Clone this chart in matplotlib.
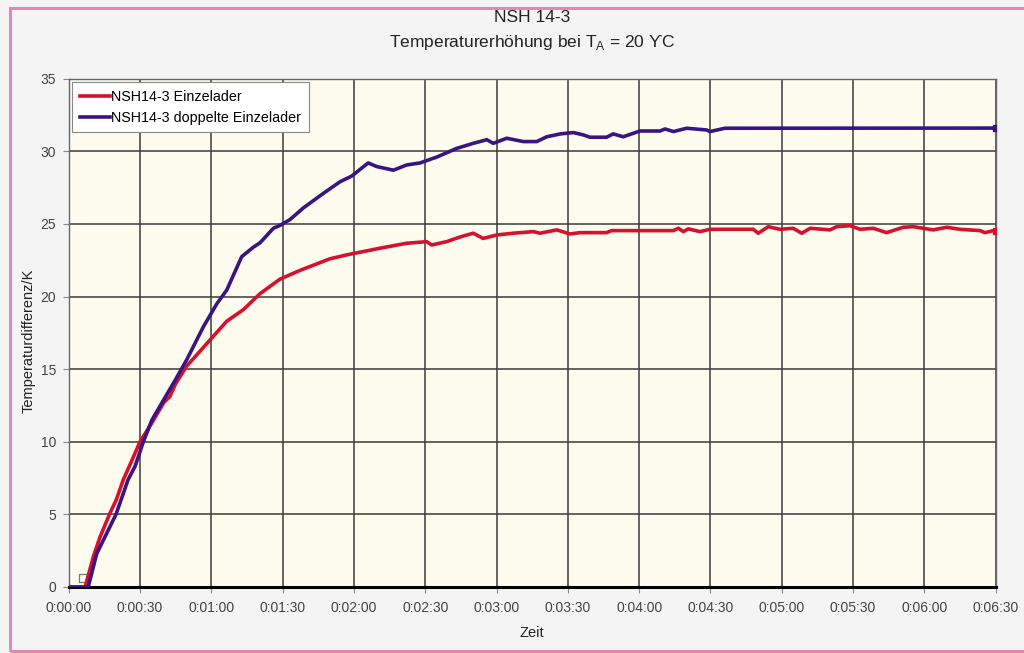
import matplotlib.pyplot as plt
from matplotlib.ticker import FuncFormatter
from matplotlib.patches import Rectangle

plt.rcParams['font.family'] = ['Liberation Sans', 'DejaVu Sans']

# Zeit in Sekunden, Temperaturdifferenz in K
t_einzel = [0, 6.9, 10.4, 13.2, 17.4, 20, 23, 26, 30, 35, 40, 42.5, 45, 49.6,
            59.4, 66.5, 73.5, 80.5, 88.9, 97.3, 109.9, 117.0, 131.0, 142.2,
            150.6, 152.7, 159.0, 164.6, 170.2, 174.4, 180.1, 187.0, 195.5,
            198.3, 205.3, 210.9, 215.1, 226.3, 228.4, 254.4, 256.5, 258.6,
            260.7, 265.6, 269.8, 288.0, 290.1, 294.3, 299.2, 304.8, 308.4,
            311.9, 320.3, 323.1, 328.7, 332.9, 338.5, 344.1, 351.1, 355.3,
            363.7, 369.4, 375.0, 383.4, 385.5, 389.0, 390]
v_einzel = [0, 0, 2.1, 3.45, 5.1, 6.0, 7.4, 8.5, 10, 11.3, 12.7, 13.1, 14.0, 15.2,
            17.0, 18.3, 19.1, 20.2, 21.2, 21.8, 22.6, 22.87, 23.33, 23.67,
            23.78, 23.55, 23.78, 24.1, 24.36, 24.0, 24.24, 24.36, 24.47,
            24.36, 24.59, 24.31, 24.4, 24.4, 24.54, 24.54, 24.7, 24.47,
            24.66, 24.47, 24.63, 24.63, 24.36, 24.81, 24.63, 24.7, 24.36,
            24.7, 24.59, 24.81, 24.88, 24.63, 24.7, 24.4, 24.77, 24.81,
            24.59, 24.77, 24.63, 24.54, 24.4, 24.54, 24.5]

t_doppelt = [0, 8.2, 11.8, 16, 19.9, 25, 27.9, 31.4, 35, 40, 45, 49.5, 56.6,
             62.3, 66.5, 72.8, 77.7, 80.5, 86.1, 88.9, 93.1, 98.7, 107.1,
             114.1, 119.1, 126.0, 129.6, 136.6, 142.2, 147.8, 154.8, 163.2,
             170.2, 175.9, 178.6, 184.3, 191.3, 196.9, 201.1, 206.9, 212.3,
             216.5, 219.3, 226.3, 229.1, 233.3, 240.3, 248.8, 250.9, 254.4,
             260.0, 268.4, 269.8, 276.1, 390]
v_doppelt = [0, 0, 2.3, 3.7, 5.0, 7.4, 8.3, 10, 11.5, 12.9, 14.3, 15.6, 17.9,
             19.5, 20.45, 22.75, 23.4, 23.7, 24.7, 24.9, 25.3, 26.1, 27.1,
             27.9, 28.3, 29.2, 28.95, 28.7, 29.06, 29.2, 29.6, 30.2,
             30.55, 30.8, 30.55, 30.9, 30.67, 30.67, 31.0, 31.2, 31.29,
             31.13, 30.97, 30.97, 31.2, 31.0, 31.4, 31.4, 31.54, 31.36,
             31.59, 31.47, 31.36, 31.59, 31.6]

start_marker_t = [6]
start_marker_v = [0.6]

x_ticks = list(range(0, 391, 30))
y_ticks = list(range(0, 36, 5))

red = '#d7102e'
blue = '#3b1483'


def hms(x, pos):
    s = int(round(x))
    return '%d:%02d:%02d' % (s // 3600, (s % 3600) // 60, s % 60)


fig = plt.figure(figsize=(10.24, 6.53), dpi=100)
fig.patch.set_facecolor('#f4f4f4')

# rosa Rahmen
fig.patches.append(Rectangle((10 / 1024, 2 / 653), 1.2, 1 - 10 / 653,
                             transform=fig.transFigure, fill=False,
                             edgecolor='#e487b6', linewidth=2.2))

ax = fig.add_axes([68.7 / 1024, 66 / 653, 927 / 1024, 508.3 / 653])
ax.set_facecolor('#fdfcef')

ax.plot(t_einzel, v_einzel, color=red, linewidth=2.6, label='NSH14-3 Einzelader',
        marker='s', markevery=[len(t_einzel) - 1], markersize=4, zorder=3)
ax.plot(t_doppelt, v_doppelt, color=blue, linewidth=2.6,
        label='NSH14-3 doppelte Einzelader',
        marker='s', markevery=[len(t_doppelt) - 1], markersize=4, zorder=4)
ax.scatter(start_marker_t, start_marker_v, marker='s', s=30, facecolors='none',
           edgecolors='#777777', linewidths=0.9, zorder=2)

ax.set_xlim(0, 390)
ax.set_ylim(0, 35)
ax.set_xticks(x_ticks)
ax.set_yticks(y_ticks)
ax.xaxis.set_major_formatter(FuncFormatter(hms))
ax.grid(True, color='#3a3a3a', linewidth=1.1)
ax.set_axisbelow(True)

ax.tick_params(axis='both', direction='out', length=4, width=0.8, color='#888888',
               labelsize=10, labelcolor='#444444')
ax.tick_params(axis='x', pad=6)
ax.tick_params(axis='y', pad=5)

for side in ['top', 'left', 'right']:
    ax.spines[side].set_color('#666666')
    ax.spines[side].set_linewidth(1.0)
ax.spines['bottom'].set_color('black')
ax.spines['bottom'].set_linewidth(2.2)

leg = ax.legend(loc='upper left', bbox_to_anchor=(0.004, 0.993), borderaxespad=0,
                fancybox=False, framealpha=1, edgecolor='#888888',
                fontsize=10.3, handlelength=2.1, handletextpad=0.05,
                borderpad=0.55, labelspacing=0.45)
leg.get_frame().set_linewidth(0.8)
for h in leg.legend_handles:
    h.set_marker('')

fig.text(532 / 1024, 1 - 17 / 653, 'NSH 14-3', ha='center', va='center',
         fontsize=12.5, color='#222222')
fig.text(532 / 1024, 1 - 42 / 653, r'Temperaturerhöhung bei T$_{\mathregular{A}}$ = 20 ϒC',
         ha='center', va='center', fontsize=12.5, color='#222222')
fig.text(29 / 1024, 1 - 341 / 653, 'Temperaturdifferenz/K', rotation=90,
         ha='center', va='center', fontsize=10.5, color='#222222')
fig.text(532 / 1024, 1 - 633 / 653, 'Zeit', ha='center', va='center',
         fontsize=10.5, color='#222222')

fig.savefig('out.png', dpi=100, facecolor=fig.get_facecolor())
